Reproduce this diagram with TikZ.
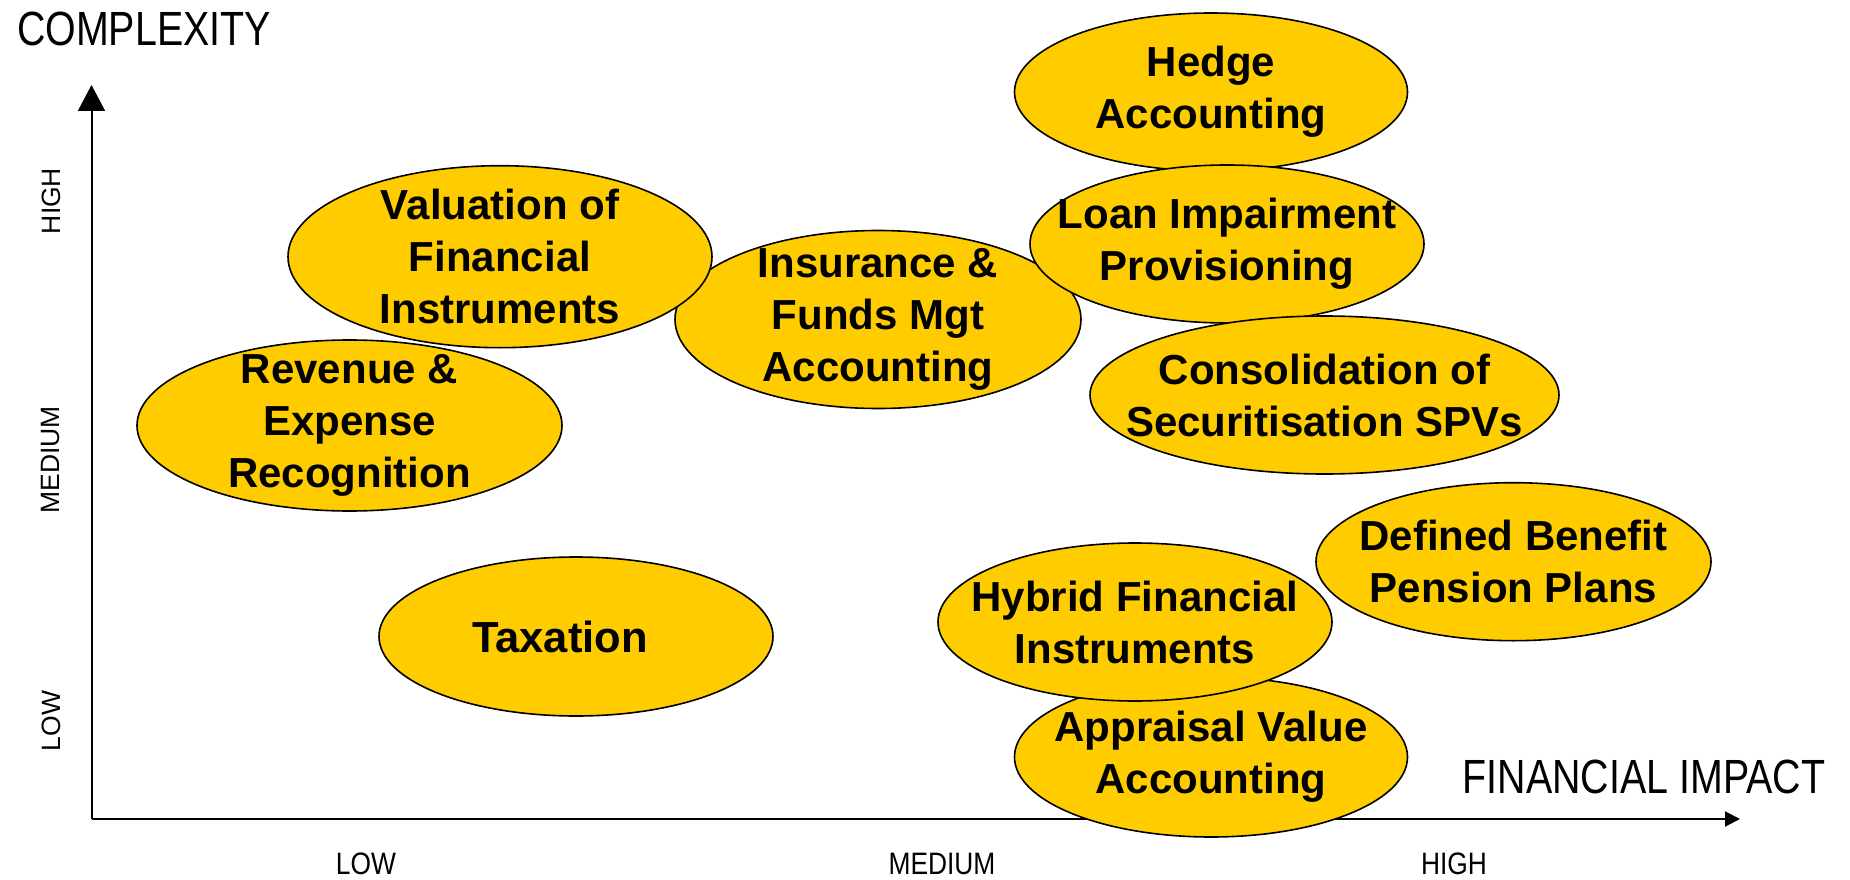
\documentclass[tikz,border=0pt]{standalone}
\usepackage{fontspec}
\setmainfont{Liberation Sans}
\newfontfamily\narrowfont[FakeStretch=0.82]{Liberation Sans}
\newfontfamily\ticknarrow[FakeStretch=0.85]{Liberation Sans}
\usetikzlibrary{shapes.geometric,arrows.meta}
\definecolor{bubyel}{HTML}{FFCC00}
\begin{document}
\begin{tikzpicture}[x=1pt,y=-1pt,
  bub/.style={ellipse,draw=black,line width=1.6pt,fill=bubyel,inner sep=0pt},
  btxt/.style={inner sep=0pt,align=center,font=\bfseries\fontsize{42}{52}\selectfont},
  axlab/.style={inner sep=0pt,font=\narrowfont\fontsize{48}{56}\selectfont},
  ticklab/.style={inner sep=0pt,font=\ticknarrow\fontsize{31}{36}\selectfont},
  yticklab/.style={inner sep=0pt,rotate=90,font=\fontsize{26.5}{32}\selectfont},
  axline/.style={line width=2pt,draw=black}]
\useasboundingbox (0,0) rectangle (1850,880);
% axes
\coordinate (orig) at (91.5,819);
\coordinate (ytip) at (91.5,85);
\coordinate (xtip) at (1740,819);
\draw[axline,-{Triangle[width=27pt,length=26pt]}] (orig) -- (ytip);
\draw[axline,-{Triangle[width=15pt,length=15pt]}] (orig) -- (xtip);
% axis labels
\node[axlab] (cplx) at (144,29) {COMPLEXITY};
\node[axlab] (fimp) at (1644,777) {FINANCIAL IMPACT};
\node[ticklab] (xlow) at (366,864) {LOW};
\node[ticklab] (xmed) at (942,864) {MEDIUM};
\node[ticklab] (xhigh) at (1454,864) {HIGH};
\node[yticklab] (yhigh) at (51,201) {HIGH};
\node[yticklab] (ymed) at (51,460) {MEDIUM};
\node[yticklab] (ylow) at (51,721) {LOW};
% bubbles
\node[bub,minimum width=406pt,minimum height=178pt] (ins) at (878,319.5) {};
\node[btxt] (inst) at (ins) {Insurance \&\\Funds Mgt\\Accounting};
\node[bub,minimum width=425pt,minimum height=171pt] (rev) at (349.5,425.5) {};
\node[btxt] (revt) at (rev) {Revenue \&\\Expense\\Recognition};
\node[bub,minimum width=424pt,minimum height=182pt] (val) at (500,256.7) {};
\node[btxt] (valt) at (val) {Valuation of\\Financial\\Instruments};
\node[bub,minimum width=393pt,minimum height=158pt] (hedge) at (1211,92) {};
\node[btxt] (hedget) at (hedge) {Hedge\\Accounting};
\node[bub,minimum width=394pt,minimum height=158pt] (loan) at (1227,244) {};
\node[btxt] (loant) at (loan) {Loan Impairment\\Provisioning};
\node[bub,minimum width=469pt,minimum height=158pt] (cons) at (1324.5,395) {};
\node[btxt] (const) at (cons) {Consolidation of\\Securitisation SPVs};
\node[bub,minimum width=395pt,minimum height=158pt] (dbp) at (1513.5,561.7) {};
\node[btxt] (dbpt) at (dbp) {Defined Benefit\\Pension Plans};
\node[bub,minimum width=394pt,minimum height=159pt] (tax) at (576,636.5) {};
\node[btxt,font=\bfseries\fontsize{43.5}{52}\selectfont] (taxt) at (560,636.5) {Taxation};
\node[bub,minimum width=393pt,minimum height=160pt] (appr) at (1211,757) {};
\node[btxt] (apprt) at (appr) {Appraisal Value\\Accounting};
\node[bub,minimum width=394pt,minimum height=158pt] (hyb) at (1135,622) {};
\node[btxt] (hybt) at (hyb) {Hybrid Financial\\Instruments};
\end{tikzpicture}
\end{document}
